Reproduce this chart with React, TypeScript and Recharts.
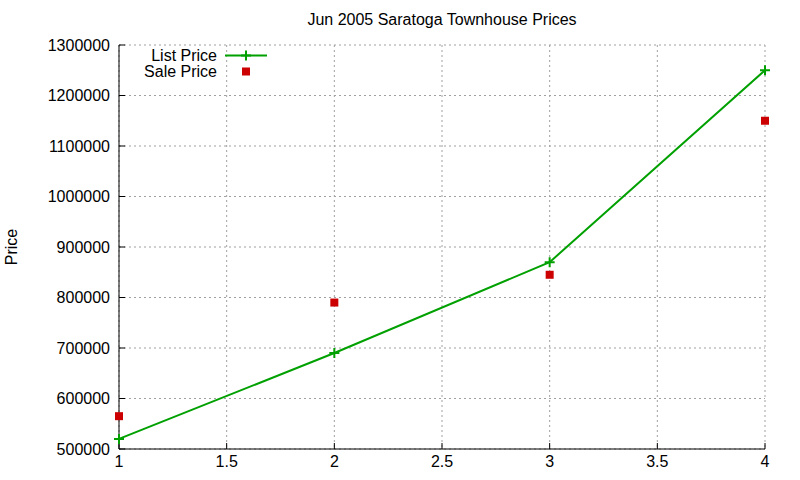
import React from 'react';
import { CartesianGrid, Line, LineChart, XAxis, YAxis } from 'recharts';

const xValues = [1, 2, 3, 4];
const listPrice = [520000, 690000, 870000, 1250000];
const salePrice = [565000, 790000, 845000, 1150000];

const xTicks = [1, 1.5, 2, 2.5, 3, 3.5, 4];
const yTicks = [500000, 600000, 700000, 800000, 900000, 1000000, 1100000, 1200000, 1300000];

const GREEN = '#00a000';
const RED = '#cc0000';
const FONT = '"Liberation Sans", Arial, sans-serif';

const rows = xValues.map((x, i) => ({ x, list: listPrice[i], sale: salePrice[i] }));

function PlusDot(props: any) {
  const { cx, cy, index } = props;
  if (cx == null || cy == null) return <g key={`p-${index}`} />;
  return (
    <path
      key={`p-${index}`}
      d={`M${cx - 5},${cy}H${cx + 5}M${cx},${cy - 5}V${cy + 5}`}
      stroke={GREEN}
      strokeWidth={2}
    />
  );
}

function SquareDot(props: any) {
  const { cx, cy, index } = props;
  if (cx == null || cy == null) return <g key={`s-${index}`} />;
  return <rect key={`s-${index}`} x={cx - 4} y={cy - 4} width={8} height={8} fill={RED} />;
}

const tickStyle = { fill: '#000', fontSize: 16, fontFamily: FONT };

export default function App() {
  return (
    <div
      style={{
        position: 'absolute',
        left: 0,
        top: 0,
        width: 800,
        height: 480,
        background: '#fff',
        fontFamily: FONT,
        color: '#000',
      }}
    >
      <LineChart width={800} height={480} data={rows} margin={{ top: 45, right: 35, left: 0, bottom: 0 }}>
        <CartesianGrid stroke="#a0a0a0" strokeDasharray="2 3" />
        <XAxis
          dataKey="x"
          type="number"
          domain={[1, 4]}
          ticks={xTicks}
          height={31}
          stroke="#000"
          tickSize={-6}
          tickMargin={13}
          tick={tickStyle}
        />
        <XAxis
          xAxisId="top"
          orientation="top"
          type="number"
          domain={[1, 4]}
          ticks={xTicks}
          height={0}
          stroke="#000"
          tickSize={-6}
          tick={false}
        />
        <YAxis
          type="number"
          domain={[500000, 1300000]}
          ticks={yTicks}
          width={119}
          stroke="#000"
          tickSize={-6}
          tickMargin={15}
          tick={tickStyle}
        />
        <YAxis
          yAxisId="right"
          orientation="right"
          type="number"
          domain={[500000, 1300000]}
          ticks={yTicks}
          width={0}
          stroke="#000"
          tickSize={-6}
          tick={false}
        />
        <Line
          dataKey="list"
          stroke={GREEN}
          strokeWidth={2}
          dot={PlusDot}
          activeDot={false}
          isAnimationActive={false}
        />
        <Line
          dataKey="sale"
          stroke="none"
          dot={SquareDot}
          activeDot={false}
          isAnimationActive={false}
        />
      </LineChart>

      <div
        style={{ position: 'absolute', left: 119, width: 646, top: 11, textAlign: 'center', fontSize: 16 }}
      >
        Jun 2005 Saratoga Townhouse Prices
      </div>

      <div
        style={{
          position: 'absolute',
          left: 12,
          top: 247,
          fontSize: 16,
          transform: 'translate(-50%, -50%) rotate(-90deg)',
          whiteSpace: 'nowrap',
        }}
      >
        Price
      </div>

      <div style={{ position: 'absolute', left: 100, top: 48, width: 117, textAlign: 'right', fontSize: 16, lineHeight: '16px' }}>
        <div>List Price</div>
        <div>Sale Price</div>
      </div>
      <svg style={{ position: 'absolute', left: 0, top: 0 }} width={800} height={480} pointerEvents="none">
        <line x1={225} x2={267} y1={55.5} y2={55.5} stroke={GREEN} strokeWidth={2} />
        <PlusDot cx={246} cy={55.5} index={0} />
        <SquareDot cx={246} cy={71.5} index={1} />
      </svg>
    </div>
  );
}
